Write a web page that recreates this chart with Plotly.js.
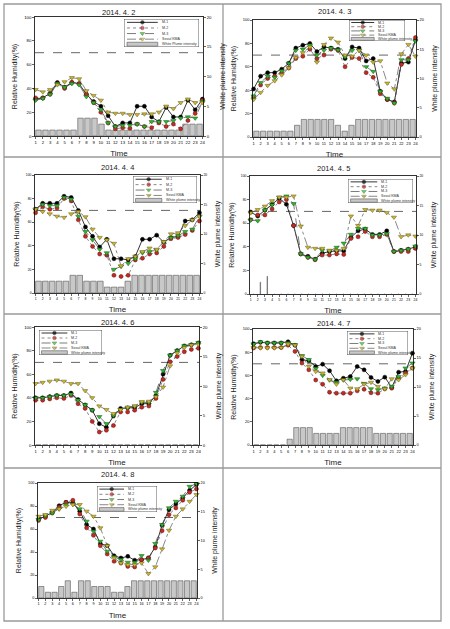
<!DOCTYPE html>
<html><head><meta charset="utf-8">
<script src="https://cdn.plot.ly/plotly-3.0.1.min.js"></script>
<style>html,body{margin:0;padding:0;background:#fff;}#chart{width:450px;height:629px;}</style>
</head><body><div id="chart"></div>
<script>
// ---------- DATA ----------
const hours = [1,2,3,4,5,6,7,8,9,10,11,12,13,14,15,16,17,18,19,20,21,22,23,24];
const hourLabels = hours.map(String);
const panelTitles = ["2014. 4. 2","2014. 4. 3","2014. 4. 4","2014. 4. 5","2014. 4. 6","2014. 4. 7","2014. 4. 8"];
const seriesNames = ["M-1","M-2","M-3","Seoul KMA"];
const barNames = ["White Plume intensity","White plume intensity","White plume intensity","White plume intensity","White plume intensity","White plume intensity","White plume intensity"];
const threshold = 70;

const m1_0402 = [31,32,36,45,41,45,44,35,29,25,17,8,11,11,25,25,16,12,24,16,16,30,22,31];
const m2_0402 = [32,32,35,44,40,45,44,35,28,20,11,6,7,6.5,10,8,7,11,8,10,6,13,19,30];
const m3_0402 = [30,31.5,35,44,41,44,43,33,28,22,11,8,9,9,10,8,12,12,12,13,15,16,15,29];
const kma_0402 = [39,37,39,43,45.5,49,48,38,34,30,20,19,19,18,18,18.5,18.5,20,25,23,28,31,28,28];
const plume_0402 = [1,1,1,1,1,1,3,3,3,2,1,1,1,1,1,1,1,1,1,1,1,2,2,2];

const m1_0403 = [41,52,55,55,58,63,76,78.5,80,73,77,76,75,67,77,76,65,67,39,32,30,63,64,83];
const m2_0403 = [34,44.5,50,52,55,59,67,69,75,67,70,75,74,60,68,67,55,51,37,32,29,62,67,85];
const m3_0403 = [35,46.5,52,51,56.5,63,74,75,78.5,70,74,76,74.5,68.5,74,74,60,56,39,33,29,66,66,82];
const kma_0403 = [32,38,44,48,53,59,68,72,77,64,79,84.5,81,70,69,74,70,64,65,46,41,71,79,69];
const plume_0403 = [1,1,1,1,1,1,2,3,3,3,3,3,2,1,2,3,3,3,3,3,3,3,3,3];

const m1_0404 = [71,76,76,76,82,81,70,56,48,39,45.5,29,29,28,31,45.5,45.5,49,43,47,48,61,62,68];
const m2_0404 = [68,73,71,72,80,78,62,48,39.5,33,32,15,14,15,28,29.5,33,34,39.5,46,47,49.5,53,61];
const m3_0404 = [71,75,74,74,81,79.5,65,52,45,37,34,20,22.5,25,29,34,35,36.5,43.5,47,48.5,52,54,65];
const kma_0404 = [71,69,67,65,64,67,69,64.5,54,47,45,42,23,29,31,35,38,37,43.5,50,51,57,62,65];
const plume_0404 = [2,2,2,2,2,3,3,2,2,2,1,1,1,2,3,3,3,3,3,3,3,3,3,3];

const m1_0405 = [69.5,66,71,76,81,76,58,34,32,29.5,34.5,36,36.5,36.5,48,53.5,55,50.5,50.5,53.5,36,37,38,40];
const m2_0405 = [63,67,67,72,78,80,58,34,31,29,33,33,34,33.5,47,48.5,53,48.5,48.5,50.5,36,36,36,38.6];
const m3_0405 = [62.5,62,71,75.5,82,83,76.5,34,31,29.3,37,36.5,39.5,43,50.5,55.5,55.5,50,50,51,36,37,38,40.5];
const kma_0405 = [68.7,71.5,74.4,79,82,82,83,57.5,39.5,38.6,38.6,37,37,38.6,66,58,71.5,71,71,69,65,48.5,50,49];
const plume_0405 = [0,2,3,0,0,0,0,0,0,0,0,0,0,0,0,0,0,0,0,0,0,0,0,0];

const m1_0406 = [40,40,41,42,42,44,38.5,34,29.5,18,15,24.5,31,31.5,31.5,35,35,42,60,76,80,84,85,86.5];
const m2_0406 = [38,38,39,40,39.5,42,35,31,20,11,12.5,16.5,28,28,29.5,32,33,39.5,55.5,70.5,75,79,81,82];
const m3_0406 = [40,40,41,42,42,43,38,34,29.5,24,18,25,30,31.5,33,36,36,44.5,63,76,80,84,85,86.7];
const kma_0406 = [52,53,54,55,54,52,52,46,40,33,30,26.5,30,32,33,36.7,37,41,49,67,78,82.5,84.7,85.3];
const plume_0406 = [0,0,0,0,0,0,0,0,0,0,0,0,0,0,0,0,0,0,0,0,0,0,0,0];

const m1_0407 = [87.3,88.5,88,88,88,89,86,73.5,72.6,67.7,69.7,64,55.3,57.6,59,67.7,64.8,58.2,54.8,58.5,49.6,62.8,63.4,79.2];
const m2_0407 = [83.6,84,84,84,84,86,80.7,70.6,64.8,56,52.4,45.5,44.7,44.7,44.7,46.7,48,45,44.7,48.4,49,57.6,62,66.3];
const m3_0407 = [87,88.8,88,88,88,88,86.5,77,73.5,66,60,56,54,56,56.5,57,53,48.4,47.6,49,50.5,59,66.3,70.6];
const kma_0407 = [84,83.6,83.6,83.6,84,87,86,76.4,67.7,63.4,62,56.2,52.4,56.2,49,48.4,52.4,54,50.4,48.4,57,56.2,60.5,66.3];
const plume_0407 = [0,0,0,0,0,1,3,3,3,2,2,2,2,3,3,3,3,3,2,2,2,2,2,2];

const m1_0408 = [68.7,71,74.5,80.3,83.2,82.6,75.4,63.8,60,47.2,45.5,36.8,34.8,36.2,32.8,33.3,34.8,44.3,63.2,76.8,81.7,87,93.6,98.6];
const m2_0408 = [67.5,70,73.9,79.1,83.2,85,73,61,54.5,45.5,38.3,31.9,30.4,27.5,27,33.3,34.8,43.5,58.5,72.5,78.3,85,91.9,94.8];
const m3_0408 = [68,71.5,74,77.4,81.2,81.7,77.4,66.7,58,49.3,40.6,35.7,33.3,31,31,36.8,32.8,47.3,63.8,78.3,84,88.4,97,99.4];
const kma_0408 = [71,72.5,76.2,77.4,79.7,81.2,81.2,75.4,71,60.9,45.5,34.8,30.4,29,29,30.4,21.2,27,42.6,58.8,71,77.4,84,89.9];
const plume_0408 = [2,1,1,2,3,1,3,3,2,2,2,1,1,2,3,3,3,3,3,3,3,3,3,3];

const panelSeries = [
  [m1_0402,m2_0402,m3_0402,kma_0402],
  [m1_0403,m2_0403,m3_0403,kma_0403],
  [m1_0404,m2_0404,m3_0404,kma_0404],
  [m1_0405,m2_0405,m3_0405,kma_0405],
  [m1_0406,m2_0406,m3_0406,kma_0406],
  [m1_0407,m2_0407,m3_0407,kma_0407],
  [m1_0408,m2_0408,m3_0408,kma_0408]
];
const panelPlume = [plume_0402,plume_0403,plume_0404,plume_0405,plume_0406,plume_0407,plume_0408];

// ---------- LAYOUT GEOMETRY (pixels) ----------
const W = 450, H = 629;
const boxes = [
  {l:35,r:203,t:17,b:136, tick:4.3, ty:12, lg:{l:124,r:199,t:19,b:47}, bw:0.78},
  {l:253,r:416,t:20,b:137, tick:4.0, ty:11, lg:{l:349,r:405,t:20,b:41}, bw:0.78},
  {l:35,r:200,t:175,b:293, tick:3.4, ty:167, lg:{l:133,r:197,t:176,b:203}, bw:0.82},
  {l:250,r:416,t:176,b:294, tick:3.4, ty:168, lg:{l:348,r:413,t:179,b:203}, bw:0.06},
  {l:35,r:199,t:327,b:445, tick:4.3, ty:322, lg:{l:39,r:102,t:330,b:355}, bw:0.78},
  {l:253,r:413,t:329,b:445, tick:4.0, ty:323, lg:{l:347,r:408,t:331,b:355}, bw:0.78},
  {l:38,r:197,t:483,b:598, tick:3.8, ty:474, lg:{l:97,r:157,t:486,b:512}, bw:0.78}
];

const styles = [
  {line:{color:'#000000',width:0.8,dash:'solid'}, marker:{symbol:'circle',size:4,color:'#000000',line:{color:'#000000',width:0.5}}},
  {line:{color:'#555555',width:0.7,dash:'dot'}, marker:{symbol:'circle',size:4,color:'#c42a22',line:{color:'#5a1010',width:0.5}}},
  {line:{color:'#444444',width:0.7,dash:'dash'}, marker:{symbol:'triangle-down',size:4.6,color:'#2fb52f',line:{color:'#175f17',width:0.5}}},
  {line:{color:'#555555',width:0.7,dash:'dashdot'}, marker:{symbol:'triangle-down',size:4.6,color:'#c8b535',line:{color:'#6b5e10',width:0.5}}}
];
const barStyle = {color:'#c8c8c8', line:{color:'#555555',width:0.6}};

const FONT = 'Liberation Sans, Arial, sans-serif';
const id = n => (n === 1 ? '' : String(n));

const traces = [];
const layout = {
  width: W, height: H,
  margin: {l:0,r:0,t:0,b:0},
  paper_bgcolor: '#ffffff',
  plot_bgcolor: 'rgba(0,0,0,0)',
  showlegend: false,
  font: {family: FONT, color: '#000'},
  shapes: [], annotations: []
};

boxes.forEach((bx, i) => {
  const base = i*3 + 1;
  const bN = base, lN = base + 1, gN = base + 2;
  const xd = [bx.l/W, bx.r/W];
  const yd = [1 - bx.b/H, 1 - bx.t/H];
  const axLine = {showline:true, linecolor:'#000', linewidth:0.8, ticks:'outside', ticklen:2, tickwidth:0.6, tickcolor:'#000', showgrid:false, zeroline:false, fixedrange:true};

  // main (bars): hidden category x, right y
  layout['xaxis'+id(bN)] = {domain:xd, anchor:'y'+id(bN), range:[0.5,24.5], visible:false, fixedrange:true};
  layout['yaxis'+id(bN)] = Object.assign({}, axLine, {domain:yd, anchor:'x'+id(bN), side:'right', range:[0,20], tickvals:[0,5,10,15,20],
    tickfont:{size:bx.tick, family:FONT}, title:{text:'White plume intensity', font:{size:7, family:FONT, color:'#222'}, standoff:8}});
  // overlay (lines): hour x, left y
  layout['xaxis'+id(lN)] = Object.assign({}, axLine, {domain:xd, anchor:'y'+id(lN), overlaying:'x'+id(bN), range:[0.92,24.08],
    tickvals:hours, ticktext:hourLabels, tickangle:0, mirror:true, tickfont:{size:bx.tick, family:FONT},
    title:{text:'Time', font:{size:8, family:FONT, color:'#222'}, standoff:6}});
  layout['yaxis'+id(lN)] = Object.assign({}, axLine, {domain:yd, anchor:'x'+id(lN), overlaying:'y'+id(bN), side:'left', range:[0,100], tickvals:[0,20,40,60,80,100],
    tickfont:{size:bx.tick, family:FONT}, title:{text:'Relative Humidity(%)', font:{size:7, family:FONT, color:'#222'}, standoff:5}});
  // legend axes
  const lg = bx.lg;
  layout['xaxis'+id(gN)] = {domain:[lg.l/W, lg.r/W], anchor:'y'+id(gN), range:[0,1], visible:false, fixedrange:true};
  layout['yaxis'+id(gN)] = {domain:[1-lg.b/H, 1-lg.t/H], anchor:'x'+id(gN), range:[5,0], visible:false, fixedrange:true};

  traces.push({type:'bar', x:hours, y:panelPlume[i], width:bx.bw, name:barNames[i],
    xaxis:'x'+id(bN), yaxis:'y'+id(bN), marker:barStyle, hoverinfo:'skip'});

  panelSeries[i].forEach((vals, s) => {
    traces.push({type:'scatter', mode:'lines+markers', x:hours, y:vals, name:seriesNames[s],
      xaxis:'x'+id(lN), yaxis:'y'+id(lN), line:styles[s].line, marker:styles[s].marker, cliponaxis:false});
  });

  // threshold dashed line
  layout.shapes.push({type:'line', xref:'x'+id(lN)+' domain', yref:'y'+id(lN), x0:0, x1:1, y0:threshold, y1:threshold,
    line:{color:'#555555', width:0.9, dash:'dash'}, layer:'below'});

  // panel title
  layout.annotations.push({text:panelTitles[i], xref:'paper', yref:'paper', x:(bx.l+bx.r)/2/W, y:1 - bx.ty/H,
    xanchor:'center', yanchor:'middle', showarrow:false, font:{size:7.5, family:FONT, color:'#222'}});

  // legend box
  const gx = 'x'+id(gN), gy = 'y'+id(gN);
  layout.shapes.push({type:'rect', xref:gx, yref:gy, x0:0, x1:1, y0:0, y1:5, fillcolor:'#ffffff', line:{color:'#333', width:0.8}, layer:'below'});
  seriesNames.forEach((nm, s) => {
    const row = s + 0.6;
    traces.push({type:'scatter', mode:'lines+markers', x:[0.04,0.245,0.45], y:[row,row,row], xaxis:gx, yaxis:gy,
      line:styles[s].line, marker:Object.assign({}, styles[s].marker, {size:[0, styles[s].marker.size*0.9, 0]}), hoverinfo:'skip', cliponaxis:false});
    layout.annotations.push({text:nm, xref:gx, yref:gy, x:0.48, y:row, xanchor:'left', yanchor:'middle', showarrow:false, font:{size:3.6, family:FONT, color:'#333'}});
  });
  layout.shapes.push({type:'rect', xref:gx, yref:gy, x0:0.04, x1:0.45, y0:4.15, y1:4.85, fillcolor:barStyle.color, line:{color:'#555', width:0.6}, layer:'above'});
  layout.annotations.push({text:barNames[i], xref:gx, yref:gy, x:0.48, y:4.5, xanchor:'left', yanchor:'middle', showarrow:false, font:{size:3.6, family:FONT, color:'#333'}});
});

// outer frame grid
const frame = {l:4, r:441, t:4, b:621, col:223, rows:[157,314,468]};
const fl = {color:'#9a9a9a', width:1.3};
layout.shapes.push({type:'rect', xref:'paper', yref:'paper', x0:frame.l/W, x1:frame.r/W, y0:1-frame.b/H, y1:1-frame.t/H, line:fl});
layout.shapes.push({type:'line', xref:'paper', yref:'paper', x0:frame.col/W, x1:frame.col/W, y0:1-frame.b/H, y1:1-frame.t/H, line:fl});
frame.rows.forEach(r => layout.shapes.push({type:'line', xref:'paper', yref:'paper', x0:frame.l/W, x1:frame.r/W, y0:1-r/H, y1:1-r/H, line:fl}));

Plotly.newPlot('chart', traces, layout, {staticPlot:true, displayModeBar:false});
</script>
</body></html>
